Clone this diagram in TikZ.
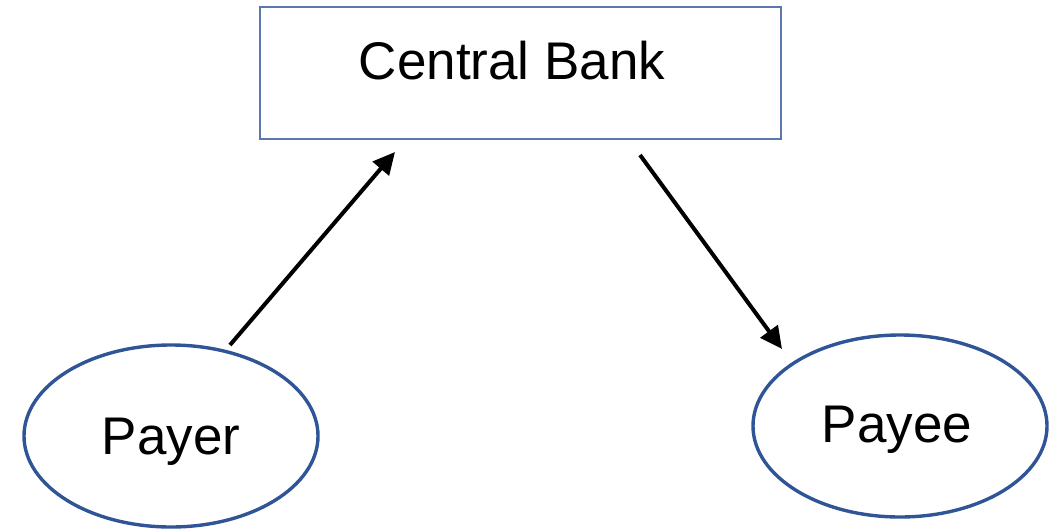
\documentclass[tikz,border=0pt]{standalone}
\usepackage{fontspec}
\setmainfont{Liberation Sans}
\usetikzlibrary{arrows.meta,shapes.geometric}
\definecolor{boxblue}{HTML}{5A78AE}
\definecolor{ringblue}{HTML}{2F5597}
\tikzset{
  bankbox/.style={draw=boxblue, line width=2.4pt, minimum width=521pt, minimum height=132pt, inner sep=0pt},
  party/.style={ellipse, draw=ringblue, line width=3.4pt, minimum width=294pt, minimum height=182pt, inner sep=0pt},
  label/.style={font=\fontsize{53}{62}\selectfont},
  flow/.style={line width=4pt, -{Triangle[length=22pt,width=21pt]}}
}
\begin{document}
\begin{tikzpicture}[x=1pt,y=-1pt]
  \useasboundingbox (0,0) rectangle (1056,530);
  % nodes
  \node[bankbox] (bank) at (520.5,73) {};
  \node[label] (banktxt) at (512,61) {Central Bank};
  \node[party] (payer) at (171,436) {};
  \node[label] (payertxt) at (171,442) {Payer};
  \node[party] (payee) at (900,426) {};
  \node[label] (payeetxt) at (897,430) {Payee};
  % connector end points
  \coordinate (outA) at (230,345);
  \coordinate (inA) at (395,152);
  \coordinate (outB) at (640,155);
  \coordinate (inB) at (782,349);
  \draw[flow] (outA) -- (inA);
  \draw[flow] (outB) -- (inB);
\end{tikzpicture}
\end{document}
